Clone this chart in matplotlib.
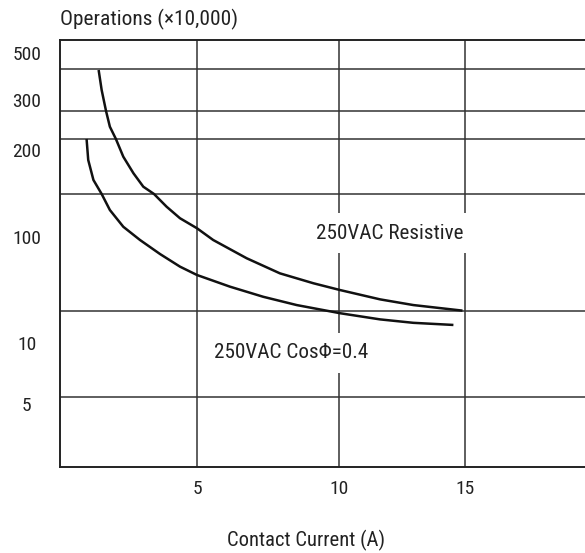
import numpy as np
import matplotlib
matplotlib.use("Agg")
import matplotlib.pyplot as plt

plt.rcParams['font.family'] = ['Roboto Condensed', 'Archivo Narrow', 'DejaVu Sans']

# ---- data ----
current_resistive = [1.41, 1.52, 1.68, 1.82, 2.04, 2.31, 2.68, 3.04, 3.43, 3.89, 4.38, 5.0,
                     5.57, 6.75, 7.92, 9.10, 10.04, 11.63, 12.95, 14.9]
ops_resistive = [415.6, 334.5, 274.4, 241.6, 218.7, 189.6, 166.2, 149.3, 140.9, 127.3, 116.1, 107.2,
                 93.7, 63.0, 45.4, 36.6, 31.6, 25.8, 22.8, 20.2]

current_cos = [0.97, 1.03, 1.22, 1.52, 1.82, 2.31, 2.92, 3.65, 4.38, 5.0, 6.16, 7.33, 8.51,
               10.04, 11.63, 12.95, 14.54]
ops_cos = [218.7, 184.7, 157.5, 140.9, 124.0, 108.5, 93.7, 69.1, 52.5, 43.8, 34.0, 27.3, 22.8,
           19.1, 16.7, 15.5, 14.8]

x_ticks = [5, 10, 15]
x_tick_labels = ["5", "10", "15"]
y_ticks = [5, 10, 100, 200, 300, 500]
y_tick_labels = ["5", "10", "100", "200", "300", "500"]
y_grid = [5.4, 20, 141, 219, 274, 420]

label_resistive = "250VAC Resistive"
label_cos = "250VAC Cos\u03a6=0.4"

# ---- non-uniform scales of the original datasheet drawing ----
x_anchor_val = [0, 5, 10, 15, 20]
x_anchor_pos = [0, 137, 279, 405, 531]
y_anchor_val = [2.45, 5, 10, 100, 200, 300, 500, 576]
y_anchor_pos = [0, 63, 124, 230, 317, 367, 414, 427]
y_anchor_log = np.log10(y_anchor_val)


def x_fwd(v):
    return np.interp(v, x_anchor_val, x_anchor_pos)


def x_inv(p):
    return np.interp(p, x_anchor_pos, x_anchor_val)


def y_fwd(v):
    v = np.clip(np.asarray(v, dtype=float), 1e-6, None)
    return np.interp(np.log10(v), y_anchor_log, y_anchor_pos)


def y_inv(p):
    return 10 ** np.interp(p, y_anchor_pos, y_anchor_log)


fig = plt.figure(figsize=(5.85, 5.53), dpi=100)
ax = fig.add_axes([60 / 585, 86 / 553, 525 / 585, 427 / 553])
ax.set_xscale('function', functions=(x_fwd, x_inv))
ax.set_yscale('function', functions=(y_fwd, y_inv))
ax.set_xlim(0, x_inv(525))
ax.set_ylim(2.45, 576)

for g in y_grid:
    ax.axhline(g, color='#333333', lw=1.1, zorder=1)
for g in x_ticks:
    ax.axvline(g, color='#333333', lw=1.1, zorder=1)

ax.plot(current_resistive, ops_resistive, color='#111111', lw=1.8, zorder=3,
        solid_capstyle='butt', solid_joinstyle='round')
ax.plot(current_cos, ops_cos, color='#111111', lw=1.8, zorder=3,
        solid_capstyle='butt', solid_joinstyle='round')

ax.text(12.02, 103, label_resistive, ha='center', va='center', fontsize=15.2,
        color='#222222', zorder=4,
        bbox=dict(boxstyle='square,pad=0.5', fc='white', ec='none'))
ax.text(8.31, 8.93, label_cos, ha='center', va='center', fontsize=15.2,
        color='#222222', zorder=4,
        bbox=dict(boxstyle='square,pad=0.5', fc='white', ec='none'))

for s in ['left', 'bottom', 'top']:
    ax.spines[s].set_color('#222222')
    ax.spines[s].set_linewidth(1.4)
ax.spines['right'].set_visible(False)

ax.set_xticks(x_ticks)
ax.set_xticklabels(x_tick_labels)
ax.set_yticks(y_ticks)
ax.set_yticklabels(y_tick_labels)
ax.minorticks_off()
ax.tick_params(axis='both', length=0, labelsize=14, colors='#222222')
ax.tick_params(axis='x', pad=9)
ax.tick_params(axis='y', pad=24)
for lab in ax.get_yticklabels():
    lab.set_ha('center')

fig.text(60 / 585, 1 - 19 / 553, "Operations (\u00d710,000)", ha='left', va='center',
         fontsize=15.4, color='#222222')
fig.text(306 / 585, 1 - 540 / 553, "Contact Current (A)", ha='center', va='center',
         fontsize=14.9, color='#222222')

fig.savefig('out.png', dpi=100, facecolor='white')
